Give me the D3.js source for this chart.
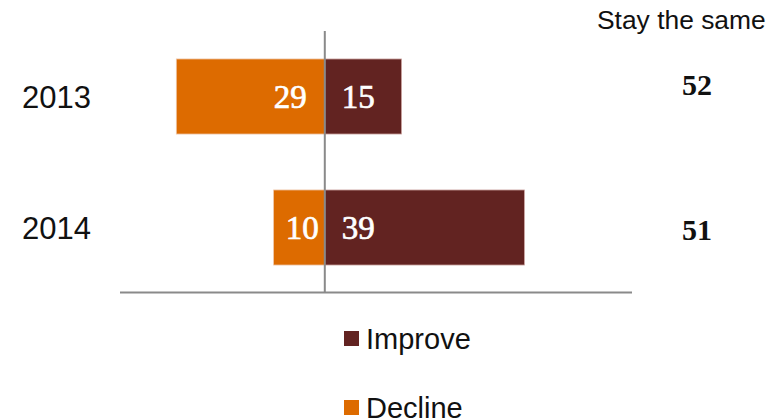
<!DOCTYPE html>
<html>
<head>
<meta charset="utf-8">
<script src="https://cdn.jsdelivr.net/npm/d3@7"></script>
<style>
  html, body { margin: 0; padding: 0; background: #fff; }
  svg { display: block; }
</style>
</head>
<body>
<div id="chart"></div>
<script>
// ---- data ----
const years = ["2013", "2014"];
const improve = [15, 39];
const decline = [29, 10];
const staySame = [52, 51];
const seriesNames = ["Improve", "Decline"];
const sameTitle = "Stay the same";

// ---- layout ----
const W = 780, H = 419;
const colImprove = "#622321";
const colDecline = "#DD6B00";
const sansFont = "'Liberation Sans', Arial, sans-serif";
const serifFont = "'Liberation Serif', 'Times New Roman', serif";

const svg = d3.select("#chart").append("svg")
  .attr("width", W).attr("height", H);

const x = d3.scaleLinear().domain([-40, 60]).range([120, 632]);
const y = d3.scaleBand().domain(years).range([31, 293])
  .paddingInner(0.427).paddingOuter(0.2135);

const rows = years.map((yr, i) => ({ yr, imp: improve[i], dec: decline[i], same: staySame[i], i }));

svg.append("g").selectAll("rect.dec").data(rows).join("rect")
  .attr("class", "dec")
  .attr("x", d => x(-d.dec))
  .attr("y", d => y(d.yr))
  .attr("width", d => x(0) - x(-d.dec))
  .attr("height", y.bandwidth())
  .attr("fill", colDecline)
  .attr("stroke", "#efc6a8").attr("stroke-width", 0.8);

svg.append("g").selectAll("rect.imp").data(rows).join("rect")
  .attr("class", "imp")
  .attr("x", x(0))
  .attr("y", d => y(d.yr))
  .attr("width", d => x(d.imp) - x(0))
  .attr("height", y.bandwidth())
  .attr("fill", colImprove)
  .attr("stroke", "#cfa9a6").attr("stroke-width", 0.8);

// axis lines
svg.append("line")
  .attr("x1", x.range()[0]).attr("x2", x.range()[1])
  .attr("y1", 292.5).attr("y2", 292.5)
  .attr("stroke", "#8a8a8a").attr("stroke-width", 2);
svg.append("line")
  .attr("x1", x(0)).attr("x2", x(0))
  .attr("y1", y.range()[0]).attr("y2", 293)
  .attr("stroke", "#8a8a8a").attr("stroke-width", 2);

const mid = d => y(d.yr) + y.bandwidth() / 2;

// year labels
svg.append("g").selectAll("text").data(rows).join("text")
  .attr("x", 22).attr("y", d => mid(d) + 11)
  .attr("font-family", sansFont).attr("font-size", 31).attr("fill", "#111")
  .text(d => d.yr);

// decline value labels
const decOffset = [18, 6];
svg.append("g").selectAll("text").data(rows).join("text")
  .attr("x", d => x(0) - decOffset[d.i]).attr("y", d => mid(d) + 11.5)
  .attr("text-anchor", "end")
  .attr("font-family", serifFont).attr("font-size", 33).attr("fill", "#fff")
  .attr("stroke", "#fff").attr("stroke-width", 0.7)
  .text(d => d.dec);

// improve value labels
svg.append("g").selectAll("text").data(rows).join("text")
  .attr("x", x(0) + 17).attr("y", d => mid(d) + 11.5)
  .attr("font-family", serifFont).attr("font-size", 33).attr("fill", "#fff")
  .attr("stroke", "#fff").attr("stroke-width", 0.7)
  .text(d => d.imp);

// stay the same
svg.append("text")
  .attr("x", 597).attr("y", 29)
  .attr("font-family", sansFont).attr("font-size", 26.4).attr("fill", "#111")
  .text(sameTitle);
const sameDy = [-1.5, 12.5];
svg.append("g").selectAll("text").data(rows).join("text")
  .attr("x", 697).attr("y", d => mid(d) + sameDy[d.i])
  .attr("text-anchor", "middle")
  .attr("font-family", serifFont).attr("font-weight", "bold").attr("font-size", 30).attr("fill", "#111")
  .text(d => d.same);

// legend
const legY = [331, 400];
const legCols = [colImprove, colDecline];
const leg = svg.append("g").selectAll("g").data(seriesNames).join("g");
leg.append("rect")
  .attr("x", 344).attr("y", (d, i) => legY[i])
  .attr("width", 15).attr("height", 15)
  .attr("fill", (d, i) => legCols[i]);
leg.append("text")
  .attr("x", 366).attr("y", (d, i) => legY[i] + 18)
  .attr("font-family", sansFont).attr("font-size", 29).attr("fill", "#111")
  .text(d => d);
</script>
</body>
</html>
